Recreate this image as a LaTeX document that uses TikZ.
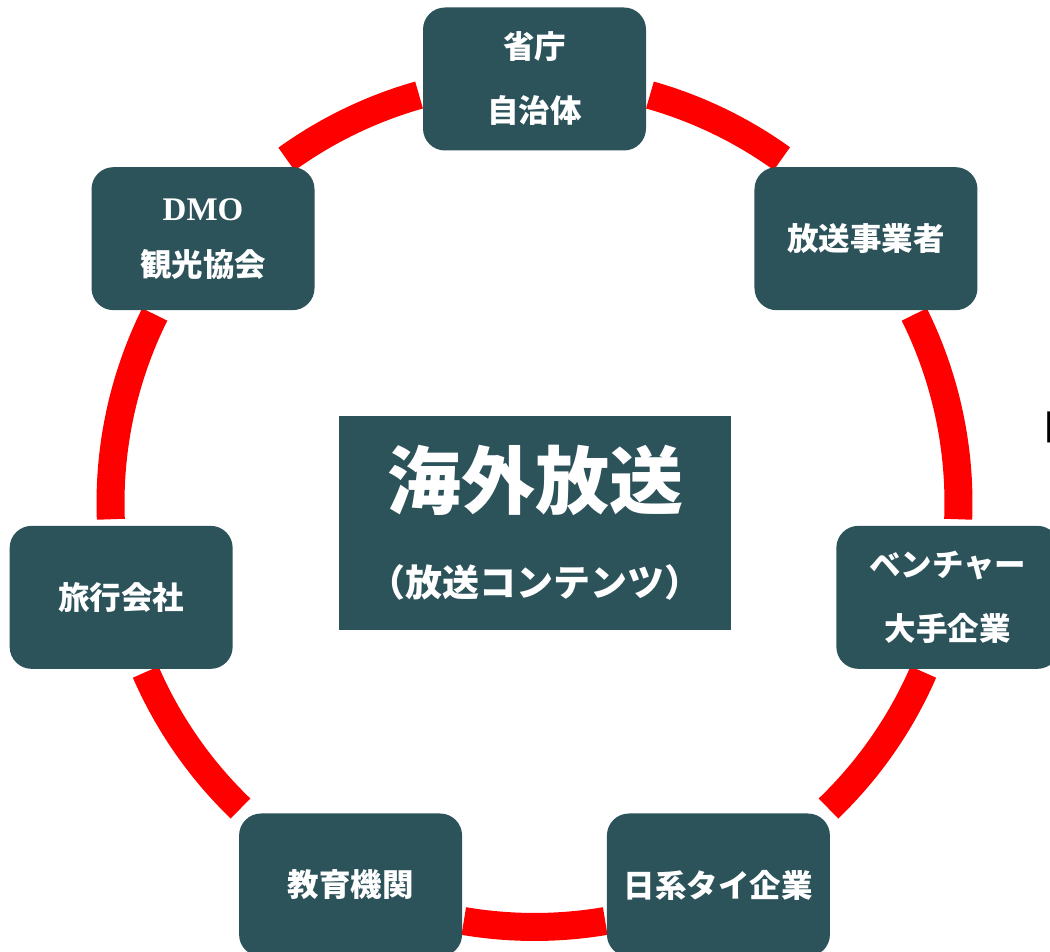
\documentclass[tikz,border=0pt]{standalone}
\usepackage{fontspec}
\usetikzlibrary{calc}
\newfontfamily\jp{Noto Sans CJK JP}
\newfontfamily\serifb{Liberation Serif}[UprightFont={* Bold}]
\definecolor{boxteal}{RGB}{44,82,90}
\definecolor{ringred}{RGB}{255,0,0}
\tikzset{
  ring/.style={draw=ringred, line width=28pt, line cap=butt},
  cyclebox/.style={rectangle, rounded corners=22pt, fill=boxteal, draw=none,
    minimum width=223pt, minimum height=143pt, inner sep=0pt,
    text=white, align=center, font=\jp\bfseries\fontsize{31.5}{64}\selectfont},
  hubbox/.style={rectangle, fill=boxteal, draw=none, minimum width=392pt,
    minimum height=214pt, inner sep=0pt},
  hubtext/.style={text=white, inner sep=0pt},
}
\begin{document}
\begin{tikzpicture}[x=1pt, y=1pt]
\useasboundingbox (0,0) rectangle (1050,952);
\clip (0,0) rectangle (1050,952);
\coordinate (c) at (534.5,449);
% ring segments
\draw[ring] ($(c)+(74.2:424)$) arc[start angle=74.2, end angle=54.3, radius=424];
\draw[ring] ($(c)+(26.4:424)$) arc[start angle=26.4, end angle=-2.2, radius=424];
\draw[ring] ($(c)+(-23.5:424)$) arc[start angle=-23.5, end angle=-46.1, radius=424];
\draw[ring] ($(c)+(-80.4:424)$) arc[start angle=-80.4, end angle=-99.6, radius=424];
\draw[ring] ($(c)+(-133.9:424)$) arc[start angle=-133.9, end angle=-156.5, radius=424];
\draw[ring] ($(c)+(182.2:424)$) arc[start angle=182.2, end angle=153.6, radius=424];
\draw[ring] ($(c)+(125.8:424)$) arc[start angle=125.8, end angle=105.8, radius=424];
% cycle boxes
\node[cyclebox] (gov) at ($(c)+(90:424)$) {省庁\\自治体};
\node[cyclebox] (broad) at ($(c)+(38.57:424)$) {放送事業者};
\node[cyclebox] (venture) at ($(c)+(-12.86:424)$) {ベンチャー\\大手企業};
\node[cyclebox] (jpthai) at ($(c)+(-64.29:424)$) {日系タイ企業};
\node[cyclebox] (edu) at ($(c)+(-115.71:424)$) {教育機関};
\node[cyclebox] (travel) at ($(c)+(-167.14:424)$) {旅行会社};
\node[cyclebox] (dmo) at ($(c)+(141.43:424)$) {{\serifb\fontsize{33}{64}\selectfont DMO}\\[-8pt]観光協会};
% hub
\node[hubbox] (hub) at (535,429) {};
\node[hubtext, font=\jp\bfseries\fontsize{74}{80}\selectfont] (hubtitle) at (535,472) {海外放送};
\node[hubtext, font=\jp\bfseries\fontsize{37}{40}\selectfont] (hubsub) at (535,370) {（放送コンテンツ）};
% partial bracket at right edge
\node[anchor=north west, inner sep=0pt, font=\jp\fontsize{48}{52}\selectfont] (bracket) at (1016,540) {「};
\end{tikzpicture}
\end{document}
